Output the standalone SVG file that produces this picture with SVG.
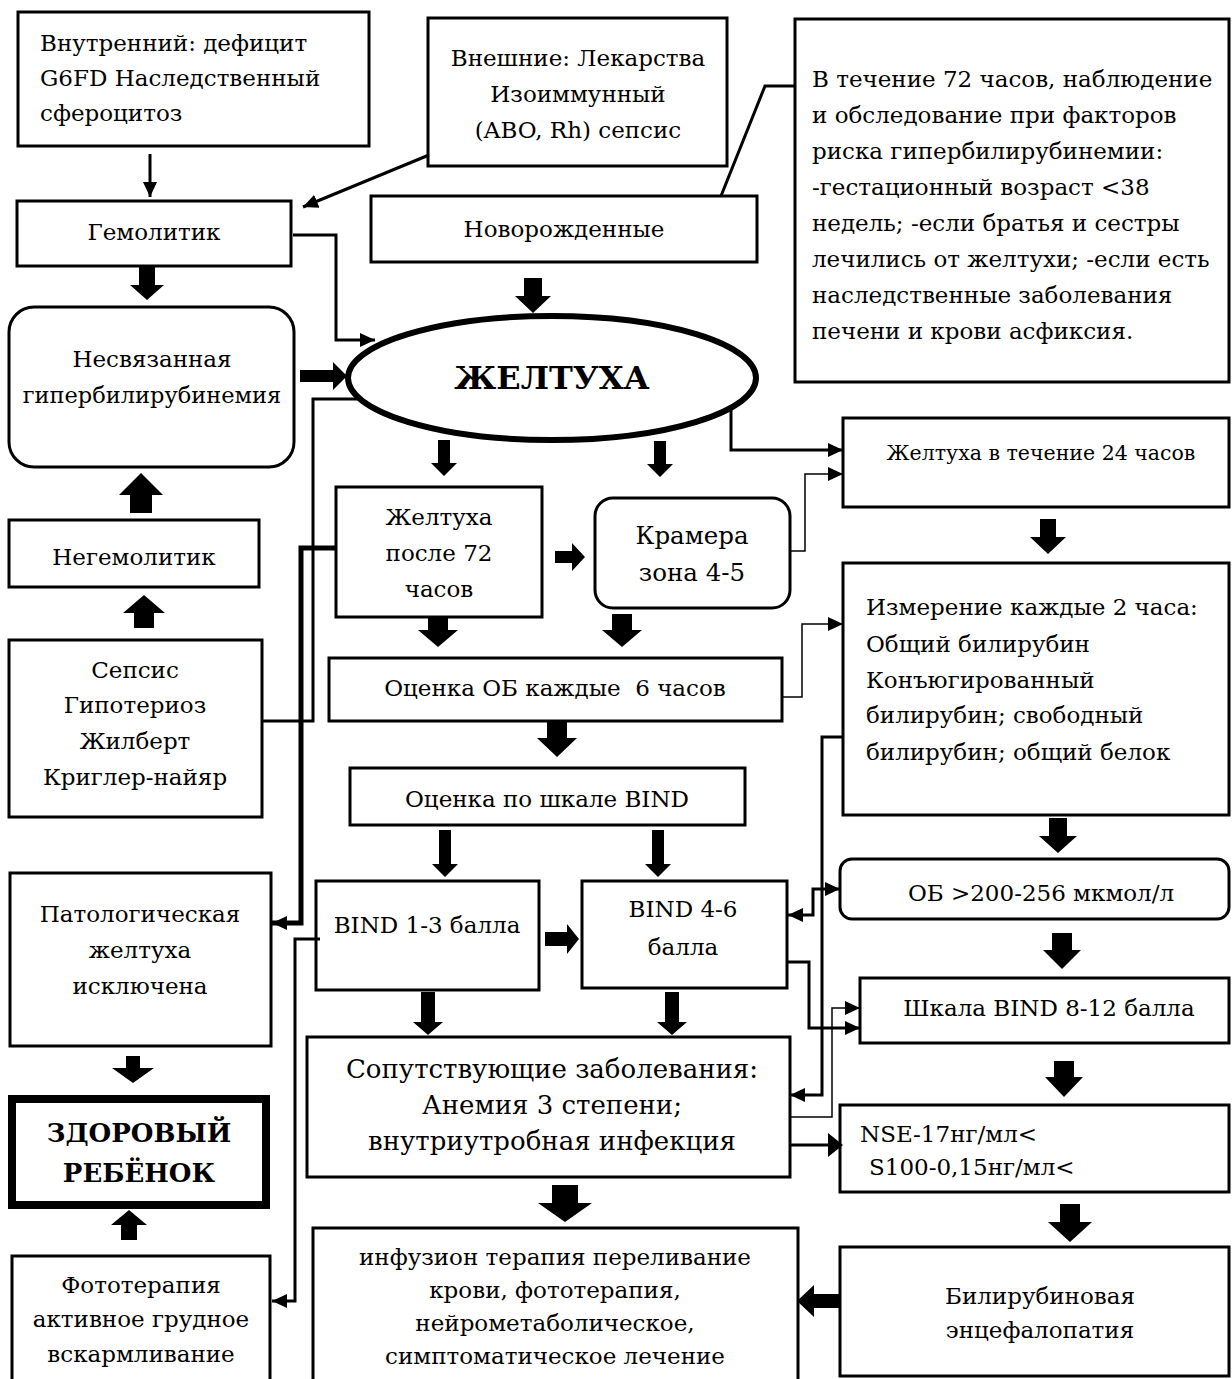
<svg xmlns="http://www.w3.org/2000/svg" width="1232" height="1379" viewBox="0 0 1232 1379">
<style>
.box{fill:#fff;stroke:#000;stroke-width:3}
.t{font-family:"DejaVu Serif","Liberation Serif",serif;font-size:23px;fill:#000}
.c{text-anchor:middle}
.b{font-weight:bold}
.blk{fill:#000;stroke:none}
.ln{fill:none;stroke:#000;stroke-width:3}
.thk{stroke-width:5}
.thin{stroke-width:1.5}
</style>
<defs>
<marker id="ah" markerUnits="userSpaceOnUse" markerWidth="16" markerHeight="16" refX="15" refY="8" orient="auto">
<path d="M0,1 L15,8 L0,15 z" fill="#000"/>
</marker>
<marker id="ahs" markerUnits="userSpaceOnUse" markerWidth="16" markerHeight="16" refX="1" refY="8" orient="auto">
<path d="M16,1 L1,8 L16,15 z" fill="#000"/>
</marker>
</defs>
<rect width="1232" height="1379" fill="#fff"/>

<g id="n-internal">
<rect class="box" x="18" y="12" width="351" height="134"/>
<text class="t" x="40" y="51">Внутренний: дефицит</text>
<text class="t" x="40" y="86">G6FD Наследственный</text>
<text class="t" x="40" y="121">сфероцитоз</text>
</g>
<g id="n-external">
<rect class="box" x="428" y="18" width="299" height="148"/>
<text class="t c" x="578" y="66">Внешние: Лекарства</text>
<text class="t c" x="578" y="102">Изоиммунный</text>
<text class="t c" x="578" y="138">(ABO, Rh) сепсис</text>
</g>
<g id="n-risk">
<rect class="box" x="795" y="19" width="434" height="363"/>
<text class="t" x="812" y="87">В течение 72 часов, наблюдение</text>
<text class="t" x="812" y="123">и обследование при факторов</text>
<text class="t" x="812" y="159">риска гипербилирубинемии:</text>
<text class="t" x="812" y="195">-гестационный возраст &lt;38</text>
<text class="t" x="812" y="231">недель; -если братья и сестры</text>
<text class="t" x="812" y="267">лечились от желтухи; -если есть</text>
<text class="t" x="812" y="303">наследственные заболевания</text>
<text class="t" x="812" y="339">печени и крови асфиксия.</text>
</g>
<g id="n-hemolytic">
<rect class="box" x="17" y="201" width="274" height="65"/>
<text class="t c" x="154" y="240">Гемолитик</text>
</g>
<g id="n-newborn">
<rect class="box" x="371" y="196" width="386" height="66"/>
<text class="t c" x="564" y="237">Новорожденные</text>
</g>
<g id="n-jaundice">
<ellipse cx="552" cy="378" rx="204" ry="62" fill="#fff" stroke="#000" stroke-width="6"/>
<text class="t c b" x="552" y="389" style="font-size:32px">ЖЕЛТУХА</text>
</g>
<g id="n-unconj">
<rect class="box" x="9" y="307" width="285" height="160" rx="25"/>
<text class="t c" x="152" y="367">Несвязанная</text>
<text class="t c" x="152" y="403" style="font-size:22.5px">гипербилирубинемия</text>
</g>
<g id="n-nonhemolytic">
<rect class="box" x="9" y="520" width="250" height="67"/>
<text class="t c" x="134" y="565">Негемолитик</text>
</g>
<g id="n-sepsis">
<rect class="box" x="9" y="640" width="253" height="177"/>
<text class="t c" x="135" y="678">Сепсис</text>
<text class="t c" x="135" y="713">Гипотериоз</text>
<text class="t c" x="135" y="749">Жилберт</text>
<text class="t c" x="135" y="785">Криглер-найяр</text>
</g>
<g id="n-after72">
<rect class="box" x="336" y="487" width="206" height="130"/>
<text class="t c" x="439" y="525">Желтуха</text>
<text class="t c" x="439" y="561">после 72</text>
<text class="t c" x="439" y="597">часов</text>
</g>
<g id="n-kramer">
<rect class="box" x="595" y="498" width="195" height="110" rx="18"/>
<text class="t c" x="692" y="544" style="font-size:24.5px">Крамера</text>
<text class="t c" x="692" y="581" style="font-size:24.5px">зона 4-5</text>
</g>
<g id="n-ob6">
<rect class="box" x="329" y="658" width="453" height="63"/>
<text class="t c" x="555" y="696" xml:space="preserve">Оценка ОБ каждые  6 часов</text>
</g>
<g id="n-bind">
<rect class="box" x="350" y="768" width="395" height="57"/>
<text class="t c" x="547" y="807">Оценка по шкале BIND</text>
</g>
<g id="n-bind13">
<rect class="box" x="316" y="881" width="223" height="109"/>
<text class="t c" x="427" y="933">BIND 1-3 балла</text>
</g>
<g id="n-bind46">
<rect class="box" x="582" y="881" width="205" height="107"/>
<text class="t c" x="683" y="917">BIND 4-6</text>
<text class="t c" x="683" y="955">балла</text>
</g>
<g id="n-comorb">
<rect class="box" x="307" y="1037" width="483" height="140"/>
<text class="t c" x="552" y="1078" style="font-size:26px">Сопутствующие заболевания:</text>
<text class="t c" x="552" y="1114" style="font-size:26px">Анемия 3 степени;</text>
<text class="t c" x="552" y="1150" style="font-size:26px">внутриутробная инфекция</text>
</g>
<g id="n-therapy">
<rect class="box" x="313" y="1228" width="485" height="170"/>
<text class="t c" x="555" y="1265">инфузион терапия переливание</text>
<text class="t c" x="555" y="1298">крови, фототерапия,</text>
<text class="t c" x="555" y="1331">нейрометаболическое,</text>
<text class="t c" x="555" y="1364">симптоматическое лечение</text>
</g>
<g id="n-j24">
<rect class="box" x="843" y="418" width="386" height="89"/>
<text class="t c" x="1041" y="460" style="font-size:20.5px">Желтуха в течение 24 часов</text>
</g>
<g id="n-measure">
<rect class="box" x="843" y="563" width="386" height="252"/>
<text class="t" x="866" y="615">Измерение каждые 2 часа:</text>
<text class="t" x="866" y="652">Общий билирубин</text>
<text class="t" x="866" y="688">Конъюгированный</text>
<text class="t" x="866" y="723">билирубин; свободный</text>
<text class="t" x="866" y="760">билирубин; общий белок</text>
</g>
<g id="n-ob200">
<rect class="box" x="840" y="859" width="389" height="60" rx="12"/>
<text class="t c" x="1041" y="901">ОБ &gt;200-256 мкмол/л</text>
</g>
<g id="n-bind812">
<rect class="box" x="860" y="978" width="369" height="65"/>
<text class="t c" x="1049" y="1016">Шкала BIND 8-12 балла</text>
</g>
<g id="n-nse">
<rect class="box" x="840" y="1105" width="389" height="87"/>
<text class="t" x="860" y="1142">NSE-17нг/мл&lt;</text>
<text class="t" x="869" y="1175">S100-0,15нг/мл&lt;</text>
</g>
<g id="n-enceph">
<rect class="box" x="840" y="1247" width="389" height="129"/>
<text class="t c" x="1040" y="1304">Билирубиновая</text>
<text class="t c" x="1040" y="1338">энцефалопатия</text>
</g>
<g id="n-excluded">
<rect class="box" x="10" y="873" width="261" height="173"/>
<text class="t c" x="140" y="922">Патологическая</text>
<text class="t c" x="140" y="958">желтуха</text>
<text class="t c" x="140" y="994">исключена</text>
</g>
<g id="n-healthy">
<rect x="12" y="1099" width="254" height="106" fill="#fff" stroke="#000" stroke-width="8"/>
<text class="t c b" x="139" y="1142" style="font-size:26px">ЗДОРОВЫЙ</text>
<text class="t c b" x="139" y="1182" style="font-size:26px">РЕБЁНОК</text>
</g>
<g id="n-photo">
<rect class="box" x="12" y="1256" width="258" height="140"/>
<text class="t c" x="141" y="1293">Фототерапия</text>
<text class="t c" x="141" y="1327">активное грудное</text>
<text class="t c" x="141" y="1362">вскармливание</text>
</g>

<g id="connectors">
<line class="ln" x1="150" y1="154" x2="150" y2="197" marker-end="url(#ah)"/>
<line class="ln" x1="429" y1="155" x2="303" y2="207" marker-end="url(#ah)"/>
<polyline class="ln" points="293,235 336,235 336,340 375,340" marker-end="url(#ah)"/>
<polyline class="ln" stroke-width="2" points="721,196 765,86 795,86"/>
<polyline class="ln" points="362,399 313,399 313,721 262,721"/>
<polyline class="ln thk" points="336,548 301,548 301,923 272,923" marker-end="url(#ah)"/>
<polyline class="ln" points="320,939 295,939 295,1301 272,1301" marker-end="url(#ah)"/>
<polyline class="ln" points="731,405 731,450 843,450" marker-end="url(#ah)"/>
<polyline class="ln thin" points="790,551 805,551 805,474 843,474" marker-end="url(#ah)"/>
<polyline class="ln thin" points="781,697 802,697 802,624 843,624" marker-end="url(#ah)"/>
<polyline class="ln" stroke-width="4" points="844,737 822,737 822,1095 790,1095" marker-end="url(#ah)"/>
<polyline class="ln" stroke-width="4" points="788,915 813,915 813,889 840,889" marker-start="url(#ahs)" marker-end="url(#ah)"/>
<polyline class="ln" stroke-width="4" points="788,962 809,962 809,1028 860,1028" marker-end="url(#ah)"/>
<polyline class="ln thin" points="790,1117 832,1117 832,1008 860,1008" marker-end="url(#ah)"/>
<line class="ln" stroke-width="11" x1="791" y1="1145" x2="830" y2="1145"/>
<polygon class="blk" points="828,1133 843,1145 828,1157"/>

<polygon class="blk" points="139,267 155,267 155,285 164,285 147,300 130,285 139,285"/>
<polygon class="blk" points="524,278 542,278 542,296 551,296 533,313 515,296 524,296"/>
<polygon class="blk" points="300,370 333,370 333,362 347,376 333,390 333,382 300,382"/>
<polygon class="blk" points="130,513 152,513 152,495 163,495 141,473 119,495 130,495"/>
<polygon class="blk" points="134,628 154,628 154,613 165,613 144,595 123,613 134,613"/>
<polygon class="blk" points="438,440 450,440 450,463 457,463 444,476 431,463 438,463"/>
<polygon class="blk" points="654,441 666,441 666,464 673,464 660,477 647,464 654,464"/>
<polygon class="blk" points="555,551 572,551 572,543 585,557 572,571 572,563 555,563"/>
<polygon class="blk" points="428,617 448,617 448,630 458,630 438,647 418,630 428,630"/>
<polygon class="blk" points="612,614 632,614 632,630 642,630 622,647 602,630 612,630"/>
<polygon class="blk" points="547,722 567,722 567,738 577,738 557,757 537,738 547,738"/>
<polygon class="blk" points="439,830 451,830 451,864 458,864 445,877 432,864 439,864"/>
<polygon class="blk" points="652,830 664,830 664,864 671,864 658,877 645,864 652,864"/>
<polygon class="blk" points="545,932 567,932 567,924 579,939 567,954 567,946 545,946"/>
<polygon class="blk" points="421,992 435,992 435,1022 443,1022 428,1035 413,1022 421,1022"/>
<polygon class="blk" points="665,992 679,992 679,1022 687,1022 672,1035 657,1022 665,1022"/>
<polygon class="blk" points="552,1185 578,1185 578,1203 592,1203 565,1222 538,1203 552,1203"/>
<polygon class="blk" points="126,1056 140,1056 140,1068 154,1068 133,1083 112,1068 126,1068"/>
<polygon class="blk" points="121,1240 137,1240 137,1225 147,1225 129,1210 111,1225 121,1225"/>
<polygon class="blk" points="1040,519 1056,519 1056,537 1066,537 1048,554 1030,537 1040,537"/>
<polygon class="blk" points="1049,818 1067,818 1067,836 1077,836 1058,853 1039,836 1049,836"/>
<polygon class="blk" points="1052,933 1072,933 1072,950 1081,950 1062,969 1043,950 1052,950"/>
<polygon class="blk" points="1054,1061 1074,1061 1074,1077 1083,1077 1064,1097 1045,1077 1054,1077"/>
<polygon class="blk" points="1060,1204 1080,1204 1080,1222 1092,1222 1070,1242 1048,1222 1060,1222"/>
<polygon class="blk" points="840,1294 814,1294 814,1285 797,1301 814,1317 814,1308 840,1308"/>
</g>
</svg>
